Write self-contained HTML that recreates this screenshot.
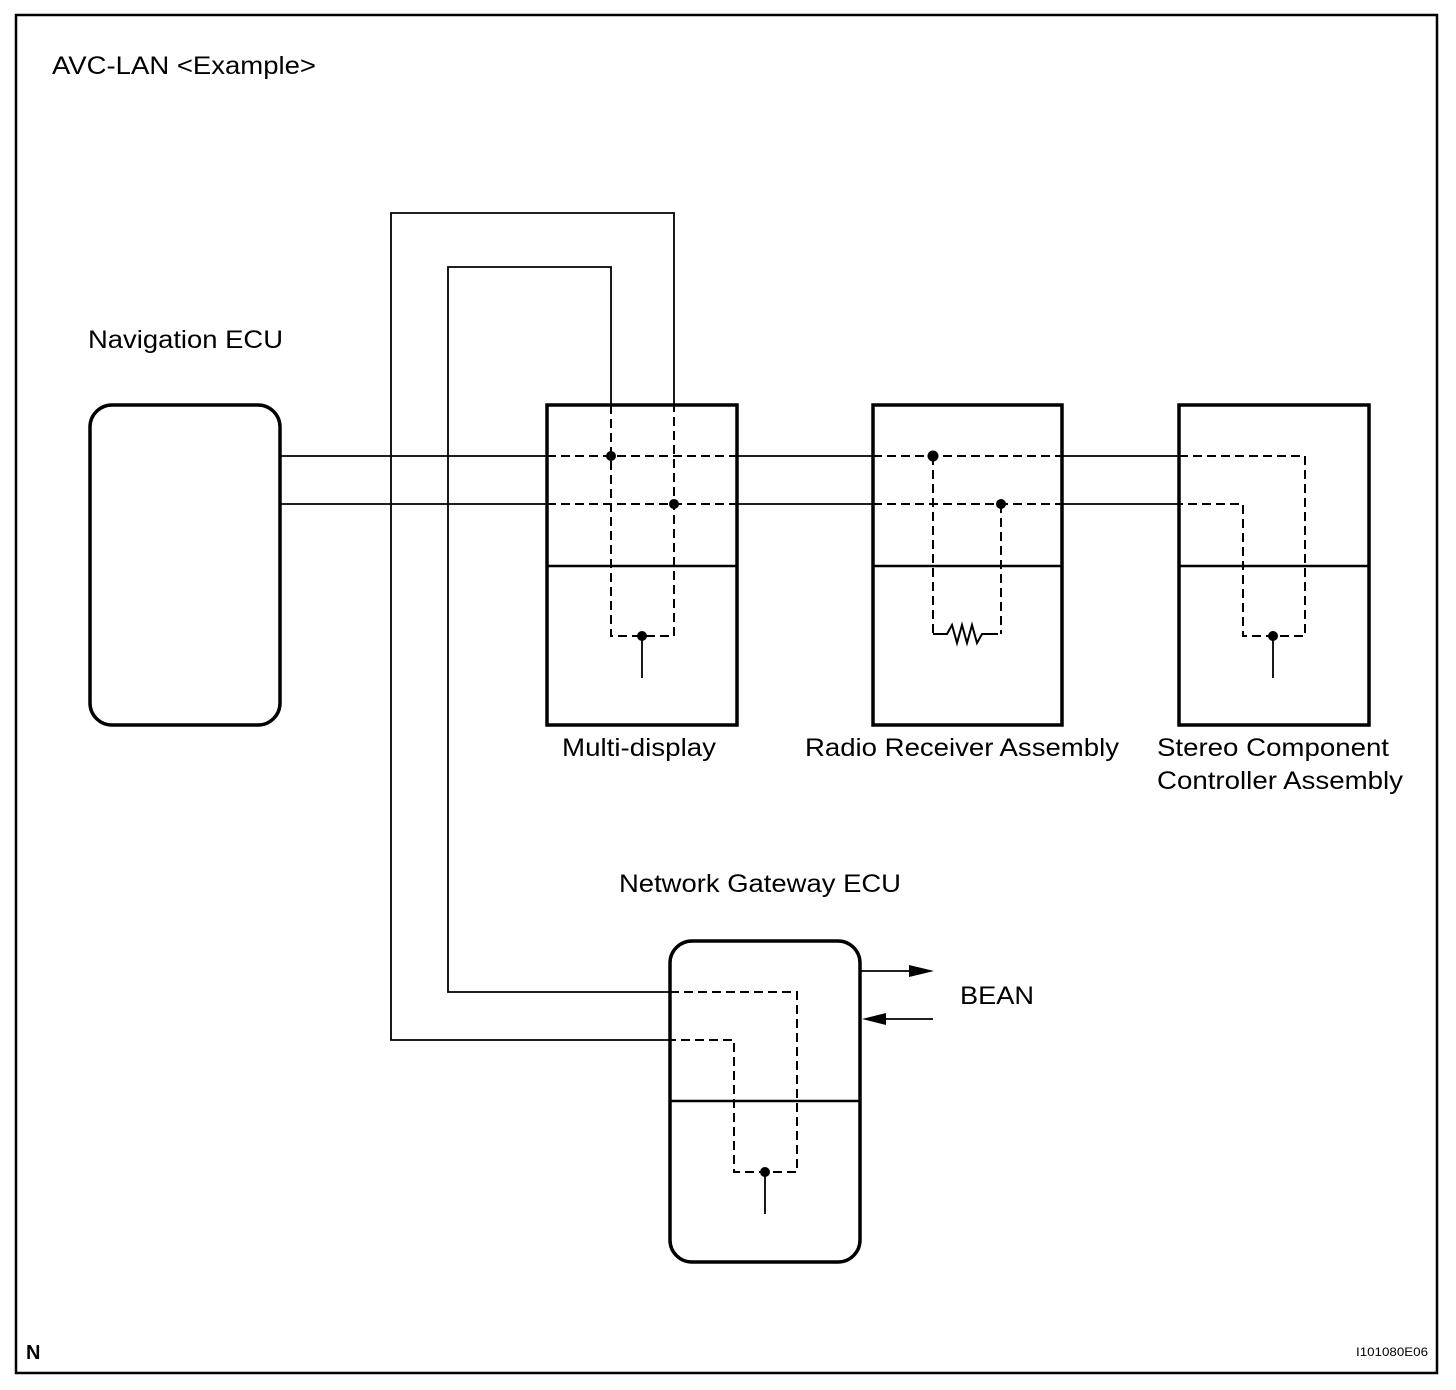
<!DOCTYPE html>
<html><head><meta charset="utf-8"><style>
html,body{margin:0;padding:0;background:#fff}
svg{display:block}
text{font-family:"Liberation Sans",Arial,sans-serif;font-size:25px;fill:#000}
</style></head><body>
<svg width="1456" height="1390" viewBox="0 0 1456 1390" xmlns="http://www.w3.org/2000/svg">
<rect x="16" y="15" width="1421" height="1358" fill="none" stroke="#000" stroke-width="2.5"/>
<text x="52" y="74" textLength="264" lengthAdjust="spacingAndGlyphs">AVC-LAN &lt;Example&gt;</text>
<text x="88" y="348" textLength="195" lengthAdjust="spacingAndGlyphs">Navigation ECU</text>
<text x="562" y="756" textLength="154" lengthAdjust="spacingAndGlyphs">Multi-display</text>
<text x="805" y="756" textLength="314" lengthAdjust="spacingAndGlyphs">Radio Receiver Assembly</text>
<text x="1157" y="756" textLength="232" lengthAdjust="spacingAndGlyphs">Stereo Component</text>
<text x="1157" y="789" textLength="246" lengthAdjust="spacingAndGlyphs">Controller Assembly</text>
<text x="619" y="892" textLength="282" lengthAdjust="spacingAndGlyphs">Network Gateway ECU</text>
<text x="960" y="1004" textLength="74" lengthAdjust="spacingAndGlyphs">BEAN</text>
<text x="26" y="1359" style="font-weight:bold;font-size:20px">N</text>
<text x="1356" y="1356" style="font-size:12px" textLength="72" lengthAdjust="spacingAndGlyphs">I101080E06</text>

<g fill="none" stroke="#000" stroke-width="3.5">
<rect x="90" y="405" width="190" height="320" rx="22"/>
<rect x="547" y="405" width="190" height="320"/>
<rect x="873" y="405" width="189" height="320"/>
<rect x="1179" y="405" width="190" height="320"/>
<rect x="670" y="941" width="190" height="321" rx="22"/>
</g>
<g stroke="#000" stroke-width="2.5">
<line x1="547" y1="566" x2="737" y2="566"/>
<line x1="873" y1="566" x2="1062" y2="566"/>
<line x1="1179" y1="566" x2="1369" y2="566"/>
<line x1="670" y1="1101" x2="860" y2="1101"/>
</g>
<g fill="none" stroke="#000" stroke-width="1.8">
<path d="M280 456H547M737 456H873M1062 456H1179"/>
<path d="M280 504H547M737 504H873M1062 504H1179"/>
<path d="M611 405V267H448V992H670"/>
<path d="M674 405V213H391V1040H670"/>
<path d="M642 636V678M1273 636V678M765 1172V1214"/>
<path d="M860 971H912M933 1019H884"/>
<path d="M933 634h14l5 -9l5 18l5 -18l5 18l5 -18l5 18l5 -9h16" stroke-width="2"/>
</g>
<g fill="none" stroke="#000" stroke-width="2" stroke-dasharray="9,5">
<path d="M547 456H737M547 504H737"/>
<path d="M611 405V636H674V405"/>
<path d="M873 456H1062M873 504H1062"/>
<path d="M933 456V634M1001 504V634"/>
<path d="M1179 456H1305V636H1243V504H1179"/>
<path d="M670 992H797V1172H734V1040H670"/>
</g>
<g fill="#000">
<circle cx="611" cy="456" r="5"/><circle cx="674" cy="504" r="5"/><circle cx="642" cy="636" r="5"/>
<circle cx="933" cy="456" r="5.5"/><circle cx="1001" cy="504" r="5"/>
<circle cx="1273" cy="636" r="5"/><circle cx="765" cy="1172" r="5"/>
<polygon points="934,971 909,965 909,977"/>
<polygon points="862,1019 886,1013 886,1025"/>
</g>
</svg>
</body></html>
